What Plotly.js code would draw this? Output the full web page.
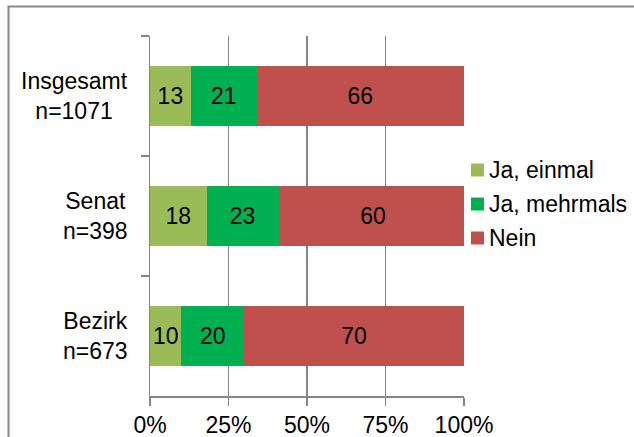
<!DOCTYPE html>
<html>
<head>
<meta charset="utf-8">
<script src="https://cdn.plot.ly/plotly-3.0.1.min.js"></script>
<style>
html,body{margin:0;padding:0;background:#fff;overflow:hidden;}
#chart{width:634px;height:437px;overflow:hidden;}
</style>
</head>
<body>
<div id="chart"></div>
<script>
// Data
const categories = ["Insgesamt", "Senat", "Bezirk"];
const sampleSizes = ["n=1071", "n=398", "n=673"];
const seriesNames = ["Ja, einmal", "Ja, mehrmals", "Nein"];
const jaEinmal = [13, 18, 10];
const jaMehrmals = [21, 23, 20];
const nein = [66, 60, 70];
const xTickVals = [0, 25, 50, 75, 100];
const xTickText = ["0%", "25%", "50%", "75%", "100%"];

const colors = ["#9BBB59", "#00B050", "#C0504D"];
const seriesValues = [jaEinmal, jaMehrmals, nein];
const FONT = "Liberation Sans, Arial, sans-serif";
const FS = 23;

const traces = seriesValues.map((vals, i) => ({
  type: "bar",
  orientation: "h",
  name: seriesNames[i],
  y: categories,
  x: vals,
  text: vals.map(String),
  textposition: "inside",
  insidetextanchor: "middle",
  constraintext: "none",
  textfont: {family: FONT, size: FS, color: "#000"},
  marker: {color: colors[i], line: {width: 0}},
  width: 0.5,
  showlegend: false,
  hoverinfo: "skip"
}));

const W = 634, H = 437;
const mL = 150, mR = 170, mT = 36, mB = 41;
const pw = W - mL - mR, ph = H - mT - mB;
function px2paperX(px){ return (px - mL) / pw; }
function px2paperY(py){ return (H - mB - py) / ph; }

const annotations = categories.map((c, i) => ({
  xref: "paper", yref: "y",
  x: px2paperX(130), y: c,
  xanchor: "right", yanchor: "middle",
  align: "center",
  text: c + "<br>" + sampleSizes[i],
  showarrow: false,
  font: {family: FONT, size: FS, color: "#000"}
}));

// Legend drawn manually (compact layout of the reference)
const legendY = [170, 204, 238];
const shapes = [];
seriesNames.forEach((name, i) => {
  annotations.push({
    xref: "paper", yref: "paper",
    x: px2paperX(487), y: px2paperY(legendY[i]),
    xanchor: "left", yanchor: "middle",
    text: name, showarrow: false,
    font: {family: FONT, size: FS, color: "#000"}
  });
  shapes.push({
    type: "rect", xref: "paper", yref: "paper",
    x0: px2paperX(471), x1: px2paperX(484),
    y0: px2paperY(legendY[i] - 6.5), y1: px2paperY(legendY[i] + 6.5),
    fillcolor: colors[i], line: {width: 0}
  });
});

// Chart frame: left and top edges
shapes.push({
  type: "line", xref: "paper", yref: "paper",
  x0: px2paperX(8.5), x1: px2paperX(8.5),
  y0: px2paperY(437), y1: px2paperY(6.5),
  line: {color: "#8a8a8a", width: 2}
});
shapes.push({
  type: "line", xref: "paper", yref: "paper",
  x0: px2paperX(7.5), x1: px2paperX(634),
  y0: px2paperY(6.5), y1: px2paperY(6.5),
  line: {color: "#8a8a8a", width: 2}
});

const layout = {
  width: W, height: H,
  margin: {l: mL, r: mR, t: mT, b: mB, pad: 0},
  paper_bgcolor: "#fff",
  plot_bgcolor: "#fff",
  barmode: "stack",
  showlegend: false,
  font: {family: FONT, size: FS, color: "#000"},
  xaxis: {
    range: [0, 100], tickvals: xTickVals, ticktext: xTickText,
    ticks: "outside", ticklen: 8, tickcolor: "#868686", tickwidth: 1.5,
    showline: true, linecolor: "#868686", linewidth: 1.5,
    showgrid: true, gridcolor: "#868686", gridwidth: 1.5,
    zeroline: false, automargin: false,
    tickfont: {family: FONT, size: FS, color: "#000"}, fixedrange: true
  },
  yaxis: {
    type: "category", categoryorder: "array", categoryarray: categories,
    range: [2.5, -0.5], ticks: "outside", tickson: "boundaries", ticklen: 8,
    tickcolor: "#868686", tickwidth: 1.5, showline: true, linecolor: "#868686",
    linewidth: 1.5, showgrid: false, showticklabels: false, zeroline: false,
    automargin: false, fixedrange: true
  },
  annotations: annotations,
  shapes: shapes
};

Plotly.newPlot("chart", traces, layout, {staticPlot: true, displayModeBar: false});
</script>
</body>
</html>
